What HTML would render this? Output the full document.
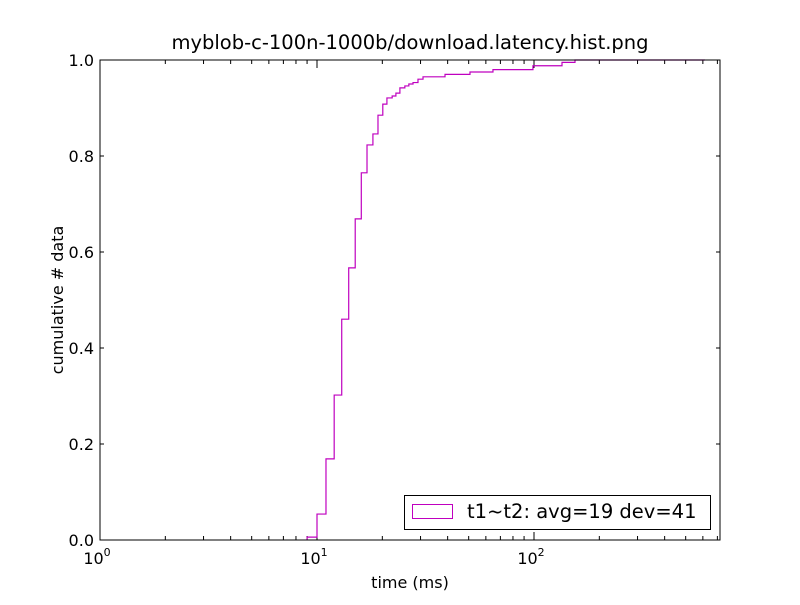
<!DOCTYPE html>
<html><head><meta charset="utf-8"><style>
body{margin:0;background:#fff;font-family:"Liberation Sans","DejaVu Sans",sans-serif}
svg text{font-family:"DejaVu Sans","Liberation Sans",sans-serif}
</style></head><body>
<svg id="chart" width="800" height="600" xmlns="http://www.w3.org/2000/svg">
<rect width="800" height="600" fill="#fff"/>
<text x="410" y="49" font-size="19.5" text-anchor="middle">myblob-c-100n-1000b/download.latency.hist.png</text>
<text x="410" y="588" font-size="16" text-anchor="middle">time (ms)</text>
<text transform="translate(63,300) rotate(-90)" font-size="16" text-anchor="middle">cumulative # data</text>
<g id="axes"></g>
<path id="series" fill="none" stroke="#bf00bf" stroke-width="1.2"/>
<rect x="100" y="60" width="620" height="480" fill="none" stroke="#000" stroke-width="1"/>
<g>
<rect x="404.5" y="495.5" width="306" height="34" fill="#fff" stroke="#000"/>
<rect x="412.5" y="504.5" width="40" height="14" fill="none" stroke="#bf00bf"/>
<text x="467" y="518" font-size="19.5">t1~t2: avg=19 dev=41</text>
</g>
</svg>
<script>
const stepX=[9.0,10.0,11.0,12.0,13.0,14.0,15.0,16.0,17.0,18.1,19.1,20.1,21.0,22.2,23.1,24.1,25.4,26.5,27.7,29.2,30.8,38.9,50.7,64.7,98.9,134.6,154.5,614];
const stepY=[0.006,0.054,0.169,0.302,0.46,0.567,0.669,0.765,0.823,0.846,0.885,0.908,0.921,0.925,0.931,0.942,0.946,0.95,0.953,0.96,0.965,0.97,0.975,0.98,0.988,0.995,1.0,1.0];
const yTicks=[0,0.2,0.4,0.6,0.8,1.0];
const xDecades=[0,1,2];
const X0=100,X1=720,Y0=540,Y1=60,DEC=217;
function xs(v){return X0+Math.log10(v)*DEC;}
function ys(v){return Y0-(Y0-Y1)*v;}
let d='M'+xs(stepX[0])+','+ys(0);
for(let i=0;i<stepX.length-1;i++){d+=' L'+xs(stepX[i])+','+ys(stepY[i])+' L'+xs(stepX[i+1])+','+ys(stepY[i]);}
document.getElementById('series').setAttribute('d',d);
const ax=document.getElementById('axes');const NS='http://www.w3.org/2000/svg';
function line(x1,y1,x2,y2,nm){const l=document.createElementNS(NS,'line');l.setAttribute('x1',x1);l.setAttribute('y1',y1);l.setAttribute('x2',x2);l.setAttribute('y2',y2);l.setAttribute('stroke','#000');


ax.appendChild(l);}
function text(x,y,s,anchor,nm,sup){const t=document.createElementNS(NS,'text');t.setAttribute('x',x);t.setAttribute('y',y);t.setAttribute('font-size','16');t.setAttribute('text-anchor',anchor);t.textContent=s;
if(sup){const ts=document.createElementNS(NS,'tspan');ts.setAttribute('dy','-8');ts.setAttribute('font-size','11');ts.textContent=sup;t.appendChild(ts);}


ax.appendChild(t);}
yTicks.forEach(v=>{const y=ys(v);line(X0,y,X0+4,y,'y-tick');line(X1,y,X1-4,y,'y-tick');text(94,y+6,v.toFixed(1),'end','y-tick-label');});
for(let e=0;e<=2;e++){for(let m=1;m<10;m++){const x=xs(m*Math.pow(10,e));if(x>X1)break;const L=m==1?8:4;line(x,Y0,x,Y0-L,'x-tick');line(x,Y1,x,Y1+L,'x-tick');}}
xDecades.forEach(e=>{text(xs(Math.pow(10,e))-3,564,'10','middle','x-tick-label',String(e));});
</script>
</body></html>
